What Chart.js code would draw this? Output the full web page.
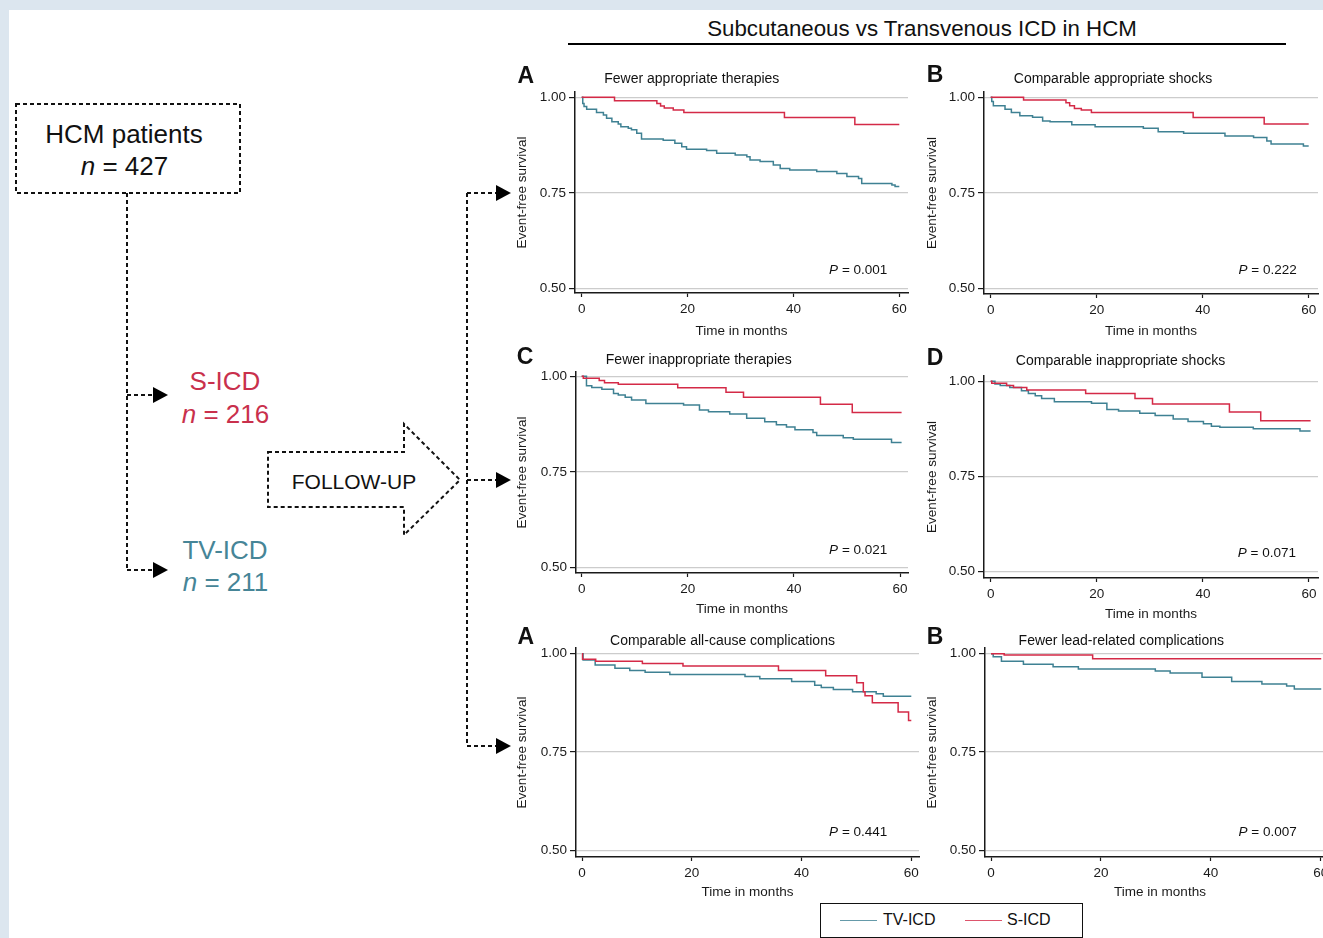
<!DOCTYPE html>
<html><head><meta charset="utf-8">
<script src="https://cdn.jsdelivr.net/npm/chart.js@4.4.0/dist/chart.umd.min.js"></script>
<style>
html,body{margin:0;padding:0;width:1323px;height:938px;overflow:hidden;background:#dce6ef;font-family:"Liberation Sans",Arial,sans-serif;color:#111;}
#sheet{position:absolute;left:9px;top:10px;width:1400px;height:1000px;background:#fff;}
.t{position:absolute;white-space:nowrap;line-height:1;}
.c{transform:translate(-50%,-50%);}
.r{transform:translate(-100%,-50%);}
.wrap{position:absolute;}
svg{position:absolute;left:0;top:0;}
#legend{position:absolute;left:820px;top:903px;width:261px;height:33px;border:1.5px solid #111;background:#fff;}
.sw{position:absolute;height:0;border-top:1.4px solid;}
</style></head>
<body>
<div id="sheet"></div>
<svg width="1323" height="938" id="flow"></svg>
<div id="texts"></div>
<div id="legend"></div>
<script>
// ---------- data ----------
const monthTicks = [0, 20, 40, 60];
const survivalTicks = [0.50, 0.75, 1.00];
const seriesNames = ['TV-ICD', 'S-ICD'];
const figureTitle = 'Subcutaneous vs Transvenous ICD in HCM';
const panelLetters = ['A', 'B', 'C', 'D', 'A', 'B'];
const panelTitles = ['Fewer appropriate therapies', 'Comparable appropriate shocks',
  'Fewer inappropriate therapies', 'Comparable inappropriate shocks',
  'Comparable all-cause complications', 'Fewer lead-related complications'];
const pValues = ['0.001', '0.222', '0.021', '0.071', '0.441', '0.007'];
const groupCounts = {total: 427, sicd: 216, tvicd: 211};

// Panel A: appropriate therapies
const aTvTime = [0,0.2,0.44,0.94,2.8,4.1,4.7,5.7,6.9,7.4,8.8,9.4,10.4,11.3,15.4,17.6,18.9,19.8,23.6,25.5,29.0,31.2,31.8,33.7,36.2,37.5,39.3,44.4,48.2,50.1,52.3,52.9,58.6,59.2,60];
const aTvSurv = [1,0.984,0.976,0.969,0.960,0.954,0.945,0.936,0.930,0.923,0.919,0.915,0.906,0.891,0.888,0.880,0.871,0.864,0.861,0.854,0.849,0.845,0.836,0.832,0.823,0.814,0.810,0.806,0.801,0.793,0.788,0.775,0.771,0.767,0.767];
const aSTime = [0,6.2,14.2,14.9,15.6,17.3,19.3,38.3,51.6,60];
const aSSurv = [1,0.991,0.984,0.977,0.972,0.967,0.960,0.947,0.929,0.929];
// Panel B: appropriate shocks
const bTvTime = [0,0.2,0.5,2.7,3.9,5.5,7.9,9.8,11.2,15.3,19.7,28.8,31.6,36.4,44.2,49.6,52.1,52.9,59.0,60];
const bTvSurv = [1,0.989,0.978,0.969,0.960,0.952,0.948,0.938,0.936,0.928,0.923,0.919,0.910,0.906,0.899,0.895,0.886,0.878,0.873,0.873];
const bSTime = [0,6.2,14.2,14.9,15.8,17.1,19.0,38.2,51.6,60];
const bSSurv = [1,0.993,0.986,0.978,0.971,0.967,0.960,0.947,0.930,0.930];
// Panel C: inappropriate therapies
const cTvTime = [0,0.9,1.9,3.8,6.0,6.9,8.2,9.4,12.1,19.2,22.2,23.9,27.9,31.1,34.5,36.7,38.6,40.2,43.6,44.3,49.3,51.2,58.4,60.3];
const cTvSurv = [1,0.975,0.971,0.966,0.955,0.951,0.945,0.938,0.929,0.925,0.912,0.907,0.901,0.890,0.881,0.873,0.867,0.860,0.853,0.845,0.839,0.835,0.827,0.827];
const cSTime = [0,0.3,3.3,4.3,6.9,18.1,27.2,30.5,45.0,51.0,60.3];
const cSSurv = [1,0.995,0.989,0.983,0.979,0.970,0.958,0.945,0.927,0.905,0.905];
// Panel D: inappropriate shocks
const dTvTime = [0,0.8,1.8,3.6,5.8,7.1,8.4,9.6,12.0,19.0,21.9,24.1,28.1,31.0,34.4,37.2,40.1,41.6,43.2,49.5,58.3,60.3];
const dTvSurv = [1,0.993,0.989,0.984,0.975,0.968,0.962,0.955,0.946,0.942,0.926,0.922,0.916,0.910,0.901,0.894,0.888,0.882,0.879,0.875,0.869,0.869];
const dSTime = [0,0.2,3.0,4.3,6.8,17.9,27.2,30.5,45.0,50.9,60.3];
const dSSurv = [1,0.995,0.989,0.984,0.977,0.968,0.955,0.940,0.919,0.896,0.896];
// Panel E: all-cause complications
const eTvTime = [0,0.2,2.4,6.0,8.7,11.5,16.0,29.7,32.4,38.2,42.4,43.6,45.8,49.3,53.6,54.9,60];
const eTvSurv = [1,0.984,0.971,0.963,0.957,0.953,0.947,0.942,0.936,0.929,0.920,0.914,0.909,0.903,0.898,0.892,0.892];
const eSTime = [0,0.1,2.5,11.0,18.4,35.8,44.4,50.05,51.26,51.57,52.9,57.6,59.5,60];
const eSSurv = [1,0.986,0.981,0.975,0.969,0.957,0.944,0.926,0.903,0.893,0.875,0.852,0.830,0.830];
// Panel F: lead-related complications
const fTvTime = [0,0.4,1.9,5.9,11.3,15.9,29.9,32.6,38.4,43.8,49.3,53.8,55.2,60.1];
const fTvSurv = [1,0.992,0.981,0.973,0.967,0.961,0.956,0.951,0.940,0.929,0.923,0.918,0.910,0.910];
const fSTime = [0,2.4,18.5,60.1];
const fSSurv = [1,0.997,0.987,0.987];

// ---------- style / layout ----------
const FONT = '"Liberation Sans", Arial, sans-serif';
const TEAL = '#3f8193', RED = '#d42a47';
const TEAL_TXT = '#468597', RED_TXT = '#c9304c';
const INK = '#1a1a1a';
Chart.defaults.font.family = FONT;

const series = [
  [aTvTime,aTvSurv,aSTime,aSSurv],[bTvTime,bTvSurv,bSTime,bSSurv],
  [cTvTime,cTvSurv,cSTime,cSSurv],[dTvTime,dTvSurv,dSTime,dSSurv],
  [eTvTime,eTvSurv,eSTime,eSSurv],[fTvTime,fTvSurv,fSTime,fSSurv]];

// chart area boxes and reference pixels for month 0/60 and survival 1.0/0.5
const geos = [
 {cl:575,cr:908,ct:92,cb:293,x0:581.7,x60:899.3,y1:97.3,y5:288.7,ytx:522.5,xty:330.8, lx:525.8,ly:74.7, tx:691.8,ty:77.5, px:887.3,py:270},
 {cl:984,cr:1318,ct:92,cb:294,x0:990.7,x60:1308.7,y1:97.3,y5:288.7,ytx:932,xty:330.8, lx:935,ly:73.8, tx:1113,ty:77.5, px:1296.7,py:270},
 {cl:576,cr:908,ct:372,cb:573,x0:581.7,x60:900,y1:376.3,y5:567.3,ytx:522.5,xty:609.2, lx:525,ly:356, tx:698.8,ty:359, px:887.3,py:550},
 {cl:984,cr:1318,ct:376,cb:578,x0:990.7,x60:1309,y1:381.3,y5:571.3,ytx:932.5,xty:614.2, lx:935,ly:356.7, tx:1120.5,ty:359.5, px:1296,py:553.3},
 {cl:576,cr:919,ct:648,cb:857,x0:582,x60:911.3,y1:653.7,y5:850.3,ytx:522.5,xty:892.5, lx:525.8,ly:636, tx:722.5,ty:639.5, px:887.3,py:831.7},
 {cl:985,cr:1335,ct:648,cb:857,x0:991,x60:1320.7,y1:653.7,y5:850.3,ytx:932,xty:892.5, lx:935,ly:636, tx:1121.3,ty:639.5, px:1296.7,py:831.7}
];

const texts = document.getElementById('texts');
function addText(html, x, y, cls, style) {
  const d = document.createElement('div');
  d.className = 't ' + cls;
  d.innerHTML = html;
  d.style.left = x + 'px'; d.style.top = y + 'px';
  Object.assign(d.style, style || {});
  texts.appendChild(d);
  return d;
}

const W = 66, H = 52, PT = 12, PR = 14, LH = 13.5 * 1.2;
geos.forEach((g, i) => {
  const wrap = document.createElement('div');
  wrap.className = 'wrap';
  const cw = W + (g.cr - g.cl) + PR, ch = PT + (g.cb - g.ct) + H;
  wrap.style.left = (g.cl - W) + 'px'; wrap.style.top = (g.ct - PT) + 'px';
  wrap.style.width = cw + 'px'; wrap.style.height = ch + 'px';
  const cv = document.createElement('canvas');
  cv.width = cw; cv.height = ch; cv.style.width = cw + 'px'; cv.style.height = ch + 'px';
  wrap.appendChild(cv);
  document.body.insertBefore(wrap, texts);

  const ppx = (g.x60 - g.x0) / 60;
  const xmin = (g.cl - g.x0) / ppx, xmax = (g.cr - g.x0) / ppx;
  const ppy = (g.y5 - g.y1) / 0.5;
  const ymax = 1 + (g.y1 - g.ct) / ppy, ymin = 0.5 - (g.cb - g.y5) / ppy;
  const [tvT, tvS, sT, sS] = series[i];
  const pts = (t, s) => t.map((v, k) => ({x: v, y: s[k]}));

  new Chart(cv, {
    type: 'line',
    data: {datasets: [
      {label: seriesNames[1], data: pts(sT, sS), borderColor: RED, borderWidth: 1.5, stepped: 'before', pointRadius: 0, order: 0, fill: false},
      {label: seriesNames[0], data: pts(tvT, tvS), borderColor: TEAL, borderWidth: 1.5, stepped: 'before', pointRadius: 0, order: 1, fill: false}
    ]},
    options: {
      responsive: false, animation: false, devicePixelRatio: 1,
      layout: {padding: {top: PT, right: PR, left: 0, bottom: 0}},
      plugins: {legend: {display: false}, tooltip: {enabled: false}},
      scales: {
        x: {type: 'linear', min: xmin, max: xmax,
          afterBuildTicks: s => { s.ticks = monthTicks.map(v => ({value: v})); },
          afterFit: s => { s.height = H; },
          grid: {display: true, drawOnChartArea: false, drawTicks: true, tickLength: 4, tickColor: INK, tickWidth: 1.2},
          border: {display: true, color: INK, width: 1.5},
          ticks: {padding: 4.5, color: INK, font: {size: 13.5}, maxRotation: 0, autoSkip: false, callback: v => String(v)},
          title: {display: true, text: 'Time in months', color: INK, font: {size: 13.5},
                  padding: {top: 0, bottom: g.cb + H - LH / 2 - g.xty}}
        },
        y: {type: 'linear', min: ymin, max: ymax,
          afterBuildTicks: s => { s.ticks = survivalTicks.map(v => ({value: v})); },
          afterFit: s => { s.width = W; },
          grid: {display: true, color: '#cccccc', lineWidth: 1.2, drawTicks: true, tickLength: 6, tickColor: INK, tickWidth: 1.2},
          border: {display: true, color: INK, width: 1.5},
          ticks: {padding: 3, color: INK, font: {size: 13.5}, callback: v => Number(v).toFixed(2)},
          title: {display: true, text: 'Event-free survival', color: INK, font: {size: 13.5},
                  padding: {top: g.ytx - (g.cl - W) - LH / 2, bottom: 0}}
        }
      }
    }
  });

  addText(panelLetters[i], g.lx, g.ly, 'c', {fontSize: '23px', fontWeight: 'bold', color: '#111'});
  addText(panelTitles[i], g.tx, g.ty, 'c', {fontSize: '14px', color: '#111'});
  addText('<i>P</i> = ' + pValues[i], g.px, g.py, 'r', {fontSize: '13.5px', color: '#111'});
});

// ---------- figure title ----------
const ht = addText(figureTitle, 922, 29, 'c', {fontFamily: '"Liberation Sans Narrow","Liberation Sans",Arial,sans-serif', fontSize: '26px', color: '#111'});
(function fit() {
  const w = ht.getBoundingClientRect().width;
  if (w > 0) ht.style.fontSize = (26 * 430 / w) + 'px';
})();

// ---------- flowchart ----------
addText('HCM patients', 124, 134.2, 'c', {fontSize: '26px', color: '#111'});
addText('<i>n</i> = ' + groupCounts.total, 124.5, 165.5, 'c', {fontSize: '26px', color: '#111'});
addText('S-ICD', 225, 381, 'c', {fontSize: '26px', color: RED_TXT});
addText('<i>n</i> = ' + groupCounts.sicd, 225.5, 413.5, 'c', {fontSize: '26px', color: RED_TXT});
addText('TV-ICD', 225, 550, 'c', {fontSize: '26px', color: TEAL_TXT});
addText('<i>n</i> = ' + groupCounts.tvicd, 225.5, 582, 'c', {fontSize: '26px', color: TEAL_TXT});
addText('FOLLOW-UP', 354, 481, 'c', {fontSize: '21px', color: '#111'});

const svg = document.getElementById('flow');
const NS = 'http://www.w3.org/2000/svg';
function el(tag, attrs) {
  const e = document.createElementNS(NS, tag);
  for (const k in attrs) e.setAttribute(k, attrs[k]);
  svg.appendChild(e); return e;
}
const dash = {stroke: '#111', 'stroke-width': 2, 'stroke-dasharray': '4 3', fill: 'none'};
el('rect', Object.assign({x: 16, y: 104, width: 224, height: 89}, dash));
el('path', Object.assign({d: 'M127 193 V570 M127 395 H153 M127 570 H153'}, dash));
el('path', Object.assign({d: 'M268 452 H404 V424 L460 480 L404 535 V507 H268 Z'}, dash));
el('path', Object.assign({d: 'M467 193 V746 M467 193 H496 M467 480 H496 M467 746 H496'}, dash));
[395, 570].forEach(y => el('path', {d: `M153 ${y-8} L168 ${y} L153 ${y+8} Z`, fill: '#000'}));
[193, 480, 746].forEach(y => el('path', {d: `M496 ${y-8} L511 ${y} L496 ${y+8} Z`, fill: '#000'}));
el('line', {x1: 568, y1: 44, x2: 1286, y2: 44, stroke: '#000', 'stroke-width': 2});

// ---------- legend ----------
const lg = document.getElementById('legend');
lg.innerHTML =
  `<div class="sw" style="left:19px;top:16px;width:37px;border-color:${TEAL};opacity:.8"></div>` +
  `<div class="t" style="left:62px;top:8px;font-size:16px;">${seriesNames[0]}</div>` +
  `<div class="sw" style="left:144px;top:16px;width:37px;border-color:${RED};opacity:.8"></div>` +
  `<div class="t" style="left:186px;top:8px;font-size:16px;">${seriesNames[1]}</div>`;
</script>
</body></html>
